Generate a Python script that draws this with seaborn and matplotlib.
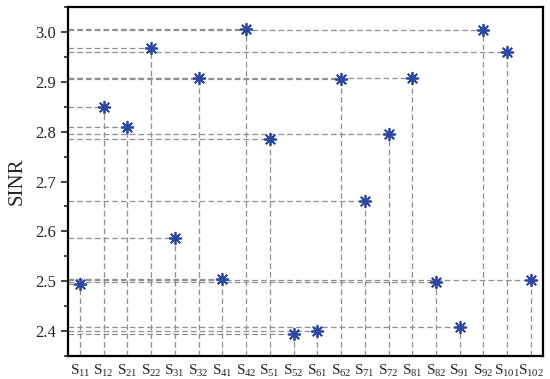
import numpy as np
import pandas as pd
import matplotlib
matplotlib.use("Agg")
import matplotlib.pyplot as plt
from matplotlib.ticker import MultipleLocator
import seaborn as sns

# nós / categorias no eixo x
nodes = ["11", "12", "21", "22", "31", "32", "41", "42", "51", "52",
         "61", "62", "71", "72", "81", "82", "91", "92", "101", "102"]
sinr = [2.495, 2.850, 2.810, 2.967, 2.587, 2.908, 2.505, 3.005, 2.786, 2.395,
        2.401, 2.906, 2.661, 2.795, 2.908, 2.499, 2.409, 3.004, 2.959, 2.502]
tick_labels = [r"S$_{%s}$" % n for n in nodes]

sns.set_theme(style="ticks")
plt.rcParams["font.family"] = ["Liberation Serif", "DejaVu Serif"]
plt.rcParams["mathtext.fontset"] = "custom"
plt.rcParams["mathtext.rm"] = "Liberation Serif"
plt.rcParams["mathtext.it"] = "Liberation Serif"

df = pd.DataFrame({"node": tick_labels, "sinr": sinr})
ymin, ymax = 2.35, 3.05

fig = plt.figure(figsize=(5.5, 3.79), dpi=100)
ax = fig.add_axes([0.1236, 0.0607, 0.8634, 0.9208])

# linhas guia tracejadas
xs = np.arange(len(nodes))
guide = dict(color="#8f8f8f", linewidth=0.9, linestyles=(0, (4.5, 2.5)), zorder=1)
ax.hlines(df["sinr"], -0.5, xs, **guide)
ax.vlines(xs, ymin, df["sinr"], **guide)

sns.scatterplot(data=df, x="node", y="sinr", marker=(8, 2, 0), s=70,
                color="#2b46a3", linewidth=1.3, zorder=3, ax=ax)

ax.set_xlim(-0.5, len(nodes) - 0.5)
ax.set_ylim(ymin, ymax)
ax.set_xticks(xs)
ax.set_xticklabels(tick_labels)
ax.yaxis.set_major_locator(MultipleLocator(0.1))
ax.yaxis.set_minor_locator(MultipleLocator(0.05))
ax.yaxis.set_major_formatter(matplotlib.ticker.FormatStrFormatter("%.1f"))
ax.tick_params(axis="y", which="major", length=5, width=1.2, labelsize=12, direction="out")
ax.tick_params(axis="y", which="minor", length=3, width=1.2, direction="out")
ax.tick_params(axis="x", length=0, labelsize=11, pad=5)
ax.set_xlabel("")
ax.set_ylabel("SINR", fontsize=15, labelpad=6)
for sp in ax.spines.values():
    sp.set_visible(True)
    sp.set_linewidth(1.6)
    sp.set_color("black")

fig.savefig("out.png", dpi=100)
